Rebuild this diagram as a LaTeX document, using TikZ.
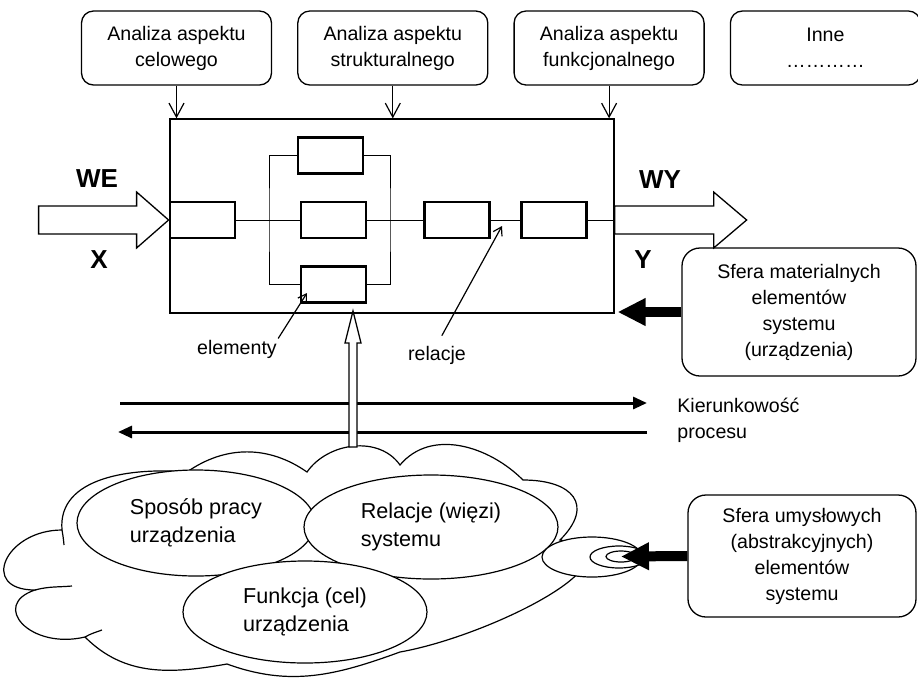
\documentclass[tikz,border=0pt]{standalone}
\usepackage{fontspec}
\setmainfont{Liberation Sans}
\usetikzlibrary{arrows.meta,positioning,shapes.geometric}

\begin{document}
\begin{tikzpicture}[x=0.5pt, y=0.5pt, node distance = 0mm and 12.5pt,
    aspectbox/.style={rectangle,rounded corners=6pt,draw,line width=0.65pt,minimum width=95pt,minimum height=37pt,align=center,inner sep=1pt,font=\fontsize{9.8}{13}\selectfont},
    spherebox/.style={rectangle,rounded corners=9pt,draw,line width=0.65pt,align=center,inner sep=1pt,font=\fontsize{9.8}{13}\selectfont},
    elem/.style={rectangle,draw,line width=1.4pt,minimum width=32.5pt,minimum height=18pt,inner sep=0pt},
    bubble/.style={ellipse,draw,fill=white,line width=0.6pt,align=left,inner sep=0pt,font=\fontsize{10.8}{14}\selectfont},
    puff/.style={ellipse,draw,fill=white,line width=0.6pt,inner sep=0pt},
    io/.style={font=\fontsize{13}{15}\selectfont\bfseries},
    note/.style={inner sep=0.5pt,font=\fontsize{9.8}{13}\selectfont},
    hollow/.style={draw,fill=white,line width=0.65pt,line join=miter},
    fat/.style={line width=5pt,-{Triangle[length=14pt,width=13pt]}},
    flow/.style={line width=1.5pt,-{Triangle[length=7pt,width=6pt]}},
    drop/.style={line width=0.6pt,-{Straight Barb[length=7pt,width=7.5pt]}},
    pointer/.style={line width=0.6pt,-{Straight Barb[length=4pt,width=5pt]}},
    link/.style={line width=0.5pt},
   ]

    \useasboundingbox (0,0) rectangle (918,-677);

    \node (celowy) [aspectbox] at (176.5,-48) {Analiza aspektu\\celowego};
    \node (strukt) [aspectbox,right=of celowy] {Analiza aspektu\\strukturalnego};
    \node (funkc)  [aspectbox,right=of strukt] {Analiza aspektu\\funkcjonalnego};
    \node (inne)   [aspectbox,right=of funkc]  {Inne\\…………};

    \node (system) [draw,line width=0.65pt,minimum width=222pt,minimum height=97pt] at (392,-216) {};
    \foreach \t in {celowy,strukt,funkc}
        \draw[drop] (\t.south) -- (\t.south |- system.north);

    \node (elA) [elem] at (202.5,-220) {};
    \node (elC) [elem] at (333.5,-220) {};
    \node (elB) [elem,above=13pt of elC,xshift=-1.5pt] {};
    \node (elD) [elem,below=13pt of elC] {};
    \node (elE) [elem] at (457,-220) {};
    \node (elF) [elem,right=14.5pt of elE] {};

    \coordinate (forkL) at (269,-220);
    \coordinate (forkR) at (390,-220);
    \draw[link] (elA) -- (elC) (elC) -- (elE) (elE) -- (elF) (elF) -- (system.east |- elF);
    \draw[link] (elB) -| (forkL) |- (elD);
    \draw[link] (elB) -| (forkR) |- (elD);

    \draw[hollow] (elA.west) -- ++(-32,28) -- ++(0,-14) -- ++(-98,0) -- ++(0,-28) -- ++(98,0) -- ++(0,-14) -- cycle;
    \draw[hollow] (system.east |- elF) ++(0,14) -- ++(99,0) -- ++(0,14) -- ++(33,-28) -- ++(-33,-28) -- ++(0,14) -- ++(-99,0) -- cycle;
    \node (we)   [io] at (97,-179) {WE};
    \node (xin)  [io] at (99,-260) {X};
    \node (wy)   [io] at (660,-180) {WY};
    \node (yout) [io] at (643,-260) {Y};

    \node (elementy) [note] at (237,-349) {elementy};
    \coordinate (elemtip) at (307,-293);
    \draw[pointer] (elementy.north east) -- (elemtip);
    \node (relacje) [note] at (437,-355) {relacje};
    \coordinate (reltip) at (502,-226);
    \draw[pointer,shorten <=5pt] (relacje.north) -- (reltip);

    \node (material) [spherebox,minimum width=117pt,minimum height=64pt] at (799,-312) {Sfera materialnych\\elementów\\systemu\\(urządzenia)};
    \draw[fat,shorten >=1.5pt] (material.west) -- (system.east |- material.west);

    \coordinate (dirL) at (120,-403);
    \coordinate (dirR) at (647,-403);
    \coordinate (retR) at (647,-432);
    \coordinate (retL) at (118,-432);
    \draw[flow] (dirL) -- (dirR);
    \draw[flow] (retR) -- (retL);
    \node (kier) [note,anchor=west,align=left] at (676,-420) {Kierunkowość\\procesu};

    \draw[line width=0.6pt,fill=white] (62,-530) to[out=95,in=175] (187,-472)
        to[out=35,in=145] (307,-472)
        to[out=55,in=125] (400,-465)
        to[out=50,in=135] (523,-480)
        to[out=0,in=45,looseness=1.8] (560,-540)
        to[out=-10,in=10,looseness=1.2] (400,-652)
        to[out=200,in=-20] (227,-664)
        to[out=190,in=-45] (85,-637)
        .. controls (30,-650) and (-10,-605) .. (35,-590)
        to[out=180,in=180,looseness=2.2] (62,-530) -- cycle;
    \draw[line width=0.6pt] (35,-590) to[out=15,in=185] (72,-586);
    \draw[line width=0.6pt] (85,-637) to[out=30,in=200] (102,-630);
    \draw[line width=0.6pt] (62,-530) to[out=-80,in=95] (64,-545);

    \coordinate (upfoot) at (353,-447);
    \draw[hollow] (upfoot) ++(-4,0) -- ++(0,104) -- ++(-4,0) -- ++(8,32) -- ++(8,-32) -- ++(-4,0) -- ++(0,-104) -- cycle;

    \node (sposob)  [bubble,minimum width=119pt,minimum height=53pt] at (196,-523) {Sposób pracy\\urządzenia};
    \node (relsys)  [bubble,minimum width=127pt,minimum height=52pt] at (431,-527) {Relacje (więzi)\\systemu};
    \node (funkcja) [bubble,minimum width=122pt,minimum height=51pt] at (305,-612) {Funkcja (cel)\\urządzenia};

    \node (puffA) [puff,minimum width=50pt,minimum height=20pt] at (592,-557) {};
    \node (puffB) [puff,minimum width=29pt,minimum height=11pt] at (619,-557) {};
    \node (puffC) [puff,minimum width=15pt,minimum height=5.5pt] at (621,-556.5) {};

    \node (mental) [spherebox,minimum width=114pt,minimum height=61pt] at (802,-556) {Sfera umysłowych\\(abstrakcyjnych)\\elementów\\systemu};
    \draw[fat] (mental.west) -- (puffC.center);
\end{tikzpicture}
\end{document}
